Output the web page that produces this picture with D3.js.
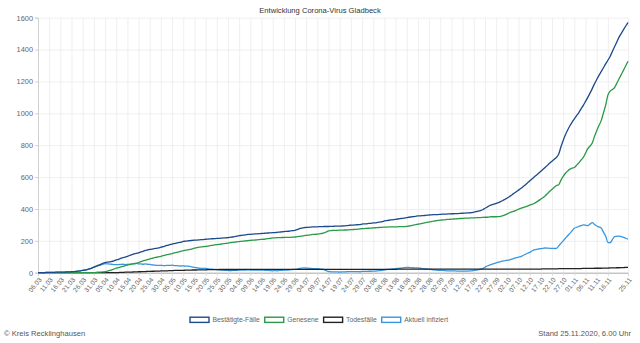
<!DOCTYPE html>
<html>
<head>
<meta charset="utf-8">
<script src="https://cdn.jsdelivr.net/npm/d3@7"></script>
<style>
  body { margin: 0; background: #fff; }
  svg { display: block; font-family: "Liberation Sans", Arial, sans-serif; }
</style>
</head>
<body>
<svg id="chart" width="640" height="343"></svg>
<script>
// Daily cumulative counts, 06.03.2020 – 25.11.2020
const confirmed = [
  1,1,1,1,2,2,2,2,3,3,
  3,4,4,5,5,6,7,8,10,12,
  14,17,20,24,29,35,41,47,52,58,
  63,66,68,71,74,80,84,90,95,98,
  103,108,113,118,122,125,130,134,140,143,
  146,148,151,153,156,160,163,168,172,176,
  180,183,186,189,192,196,198,200,201,203,
  204,205,206,207,208,210,211,212,213,214,
  215,216,217,218,219,220,222,224,227,229,
  232,234,236,238,240,241,242,243,244,245,
  246,247,248,249,250,251,252,253,255,256,
  258,259,260,262,264,266,270,276,280,283,
  284,285,286,287,288,288,289,289,290,290,
  290,291,291,292,292,292,293,294,295,297,
  298,299,300,301,302,305,306,307,309,310,
  312,313,316,318,320,325,327,329,331,333,
  335,337,339,341,343,345,348,350,352,354,
  356,357,358,359,361,362,363,364,365,365,
  366,367,367,368,369,370,370,371,371,372,
  373,374,375,376,377,380,383,386,390,395,
  404,412,420,425,430,435,440,446,453,461,
  469,478,488,498,508,518,528,539,551,563,
  575,588,600,612,624,636,649,662,675,688,
  700,712,724,745,790,830,865,895,922,945,
  965,985,1005,1028,1050,1075,1100,1127,1155,1185,
  1212,1238,1262,1286,1310,1333,1357,1388,1418,1448,
  1478,1502,1525,1548,1570
];

const recovered = [
  0,0,0,0,0,0,0,0,0,0,
  0,0,0,0,0,0,0,0,0,0,
  0,0,0,0,0,0,2,3,4,5,
  6,10,14,18,23,28,32,36,40,44,
  48,51,54,57,59,64,69,74,78,82,
  86,90,94,97,100,103,107,111,114,117,
  120,124,128,131,135,138,141,143,146,150,
  154,157,160,162,163,165,167,170,172,174,
  176,178,180,182,184,186,189,190,192,194,
  195,197,198,200,201,203,204,205,206,208,
  209,210,212,214,216,218,218,220,220,221,
  221,222,222,222,223,224,226,228,230,232,
  234,236,238,240,241,242,244,246,250,256,
  262,264,265,266,266,267,267,268,268,269,
  270,271,272,273,275,276,277,278,279,280,
  281,282,283,284,285,286,286,287,287,288,
  288,288,289,289,289,290,293,296,299,302,
  304,307,310,313,316,318,321,324,326,328,
  330,331,332,334,335,336,337,338,339,340,
  341,342,343,343,344,344,345,345,346,347,
  348,348,350,351,351,351,352,354,358,363,
  369,376,381,386,392,398,404,408,413,418,
  424,429,434,443,452,462,472,483,497,511,
  523,536,547,552,581,605,624,638,650,656,
  660,674,689,707,723,750,778,795,814,854,
  891,923,954,1002,1051,1114,1139,1150,1162,1189,
  1217,1244,1271,1299,1327
];

const deaths = [
  0,0,0,0,0,0,0,0,0,0,
  0,0,0,0,0,0,0,0,0,0,
  0,0,0,0,0,0,0,0,0,0,
  0,0,0,0,0,1,1,2,2,3,
  3,4,4,5,5,6,6,7,7,8,
  8,9,9,10,10,11,11,12,12,13,
  13,14,14,15,15,15,16,16,16,17,
  17,17,18,18,18,18,19,19,19,19,
  19,20,20,20,20,20,20,20,20,20,
  21,21,21,21,21,21,21,21,21,21,
  21,21,21,21,21,21,21,21,21,21,
  21,21,21,21,21,21,21,21,21,21,
  21,21,21,21,21,21,21,21,21,21,
  21,21,21,21,21,21,21,21,21,21,
  21,21,21,21,21,21,21,21,21,21,
  21,21,21,21,21,21,21,21,21,21,
  21,22,22,22,22,22,22,22,22,22,
  22,22,22,22,22,22,22,22,22,22,
  22,22,22,22,22,22,22,22,22,22,
  22,22,22,22,22,22,22,22,22,22,
  22,22,22,22,22,22,22,22,22,22,
  22,22,22,22,22,22,23,23,23,23,
  23,23,23,23,23,23,24,24,24,24,
  24,24,24,25,25,25,25,25,25,26,
  26,26,26,26,27,27,27,27,27,28,
  28,28,28,29,29,29,30,30,30,31,
  31,32,32,33,33
];

const active = [
  1,1,1,1,2,2,2,2,3,3,
  3,4,4,5,5,6,7,8,10,12,
  14,17,20,24,29,35,39,44,48,53,
  57,56,54,53,51,51,51,52,53,51,
  52,53,55,56,58,55,55,53,55,53,
  52,49,48,46,46,46,45,45,46,46,
  47,45,44,43,42,43,41,41,39,36,
  33,31,28,27,27,27,25,23,22,21,
  20,18,17,16,15,14,13,14,15,15,
  16,16,17,17,18,17,17,17,17,16,
  16,16,15,14,13,12,13,12,14,14,
  16,16,17,19,20,21,23,27,29,30,
  29,28,27,26,26,25,24,22,19,13,
  7,6,5,5,5,4,5,5,6,7,
  7,7,7,7,6,8,8,8,9,9,
  10,10,12,13,14,18,20,21,23,24,
  26,27,28,30,32,33,33,32,31,30,
  30,28,26,24,23,22,20,18,17,15,
  14,14,13,12,12,12,11,11,10,10,
  10,10,10,11,11,14,16,19,22,26,
  34,42,48,52,57,62,66,70,73,76,
  78,80,85,90,94,98,101,108,115,122,
  128,136,143,146,149,151,153,155,154,153,
  153,152,153,168,184,200,216,232,247,263,
  279,285,290,295,300,298,295,305,314,303,
  293,287,280,255,230,190,188,208,226,228,
  230,226,222,216,210
];

const tickLabels = [
  "06.03","11.03","16.03","21.03","26.03","31.03","05.04","10.04","15.04","20.04",
  "25.04","30.04","05.05","10.05","15.05","20.05","25.05","30.05","04.06","09.06",
  "14.06","19.06","24.06","29.06","04.07","09.07","14.07","19.07","24.07","29.07",
  "03.08","08.08","13.08","18.08","23.08","28.08","02.09","07.09","12.09","17.09",
  "22.09","27.09","02.10","07.10","12.10","17.10","22.10","27.10","01.11","06.11",
  "11.11","16.11","25.11"
];
const yTicks = [0, 200, 400, 600, 800, 1000, 1200, 1400, 1600];

const seriesNames = ["Bestätigte-Fälle", "Genesene", "Todesfälle", "Aktuell infiziert"];
const seriesColors = ["#1d4a8a", "#2a9a48", "#222222", "#3a96dd"];
const seriesData = [confirmed, recovered, deaths, active];

const titleText = "Entwicklung Corona-Virus Gladbeck";
const sourceText = "© Kreis Recklinghausen";
const standText = "Stand 25.11.2020, 6.00 Uhr";

// one category per day
const days = d3.timeDay.range(new Date(2020, 2, 6), new Date(2020, 10, 26))
  .map(d3.timeFormat("%d.%m"));

const svg = d3.select("#chart");
const plotL = 38, plotR = 628, plotT = 17.7, plotB = 272.7;

const x = d3.scalePoint().domain(days).range([plotL, plotR]);
const y = d3.scaleLinear().domain([0, 1600]).range([plotB, plotT]);

// title
svg.append("text")
  .attr("x", 320).attr("y", 13)
  .attr("text-anchor", "middle")
  .attr("font-size", 7.6)
  .attr("fill", "#333")
  .text(titleText);

// horizontal grid
const yGrid = svg.append("g").attr("transform", `translate(${plotL},0)`)
  .call(d3.axisLeft(y).tickValues(yTicks).tickSize(-(plotR - plotL)).tickFormat(""));
yGrid.select(".domain").remove();
yGrid.selectAll("line").attr("stroke", "#ebebeb").attr("stroke-width", 0.8);

// vertical grid
const xGrid = svg.append("g").attr("transform", `translate(0,${plotB})`)
  .call(d3.axisBottom(x).tickValues(tickLabels).tickSize(-(plotB - plotT)).tickFormat(""));
xGrid.select(".domain").remove();
xGrid.selectAll("line").attr("stroke", "#ebebeb").attr("stroke-width", 0.8);

// y axis labels
const yAxis = svg.append("g").attr("transform", `translate(${plotL},0)`)
  .call(d3.axisLeft(y).tickValues(yTicks).tickFormat(d3.format("d")).tickSize(3).tickPadding(2));
yAxis.select(".domain").attr("stroke", "#d0d0d0");
yAxis.selectAll("line").attr("stroke", "#d0d0d0");
yAxis.selectAll("text").attr("font-size", 7.4).attr("fill", "#666")
  .attr("font-family", "Liberation Sans, Arial, sans-serif");

// x axis labels
const xAxis = svg.append("g").attr("transform", `translate(0,${plotB})`)
  .call(d3.axisBottom(x).tickValues(tickLabels).tickSize(3));
xAxis.select(".domain").attr("stroke", "#b0b0b0");
xAxis.selectAll("line").attr("stroke", "#d8d8d8");
xAxis.selectAll("text")
  .attr("font-size", 6.6).attr("fill", "#666")
  .attr("font-family", "Liberation Sans, Arial, sans-serif")
  .attr("text-anchor", "end")
  .attr("dy", "0.3em")
  .attr("y", 0)
  .attr("transform", "translate(2,6) rotate(-50)");

// series lines
const line = d3.line()
  .x((d, i) => x(days[i]))
  .y(d => y(d))
  .curve(d3.curveMonotoneX);

const order = [3, 2, 1, 0];
order.forEach(k => {
  svg.append("path")
    .datum(seriesData[k])
    .attr("fill", "none")
    .attr("stroke", seriesColors[k])
    .attr("stroke-width", 1.3)
    .attr("stroke-linejoin", "round")
    .attr("d", line);
});

// legend
const legend = svg.append("g").attr("transform", "translate(0,320)");
let lx = 190;
seriesNames.forEach((name, k) => {
  legend.append("rect")
    .attr("x", lx).attr("y", -2.8)
    .attr("width", 19).attr("height", 5.2)
    .attr("fill", "#fff")
    .attr("stroke", seriesColors[k])
    .attr("stroke-width", 1.4);
  const t = legend.append("text")
    .attr("x", lx + 22.5).attr("y", 0)
    .attr("dy", "0.35em")
    .attr("font-size", 6.8)
    .attr("fill", "#666")
    .text(name);
  lx += 22.5 + t.node().getComputedTextLength() + 5;
});

// footer
svg.append("text")
  .attr("x", 4).attr("y", 336)
  .attr("font-size", 7.6).attr("fill", "#555")
  .text(sourceText);
svg.append("text")
  .attr("x", 631).attr("y", 336)
  .attr("text-anchor", "end")
  .attr("font-size", 7.6).attr("fill", "#555")
  .text(standText);
</script>
</body>
</html>
